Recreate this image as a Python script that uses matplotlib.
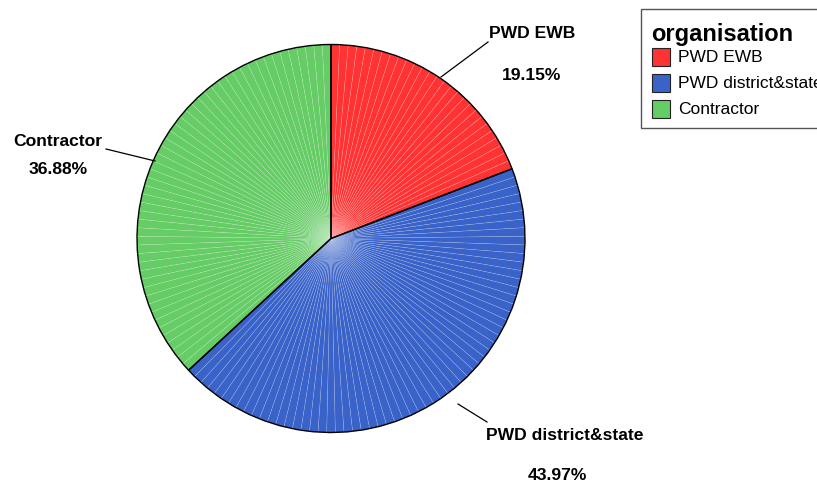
import numpy as np
import matplotlib
matplotlib.use("Agg")
import matplotlib.pyplot as plt
from matplotlib.patches import Rectangle

plt.rcParams['font.family'] = ['Liberation Sans', 'DejaVu Sans']

# Case counts per organisation
categories = ["PWD EWB", "PWD district&state", "Contractor"]
counts = [27, 62, 52]
colors = ["#FF3333", "#3A63C9", "#66CC66"]

W, H = 817, 484
fig = plt.figure(figsize=(W / 100, H / 100), dpi=100)
ax = fig.add_axes([0, 0, 1, 1])

def py(y):
    return H - y

center = (331, py(238.5))
radius = 194

# One thin wedge per case, giving the faint radial lines
case_colors = []
for c, n in zip(colors, counts):
    case_colors += [c] * n
ax.pie(np.ones(sum(counts)), colors=case_colors, startangle=90, counterclock=False,
       center=center, radius=radius, frame=True,
       wedgeprops=dict(edgecolor=(1, 1, 1, 0.22), linewidth=0.4))
# Category outlines
ax.pie(counts, colors=['none'] * 3, startangle=90, counterclock=False,
       center=center, radius=radius, frame=True,
       wedgeprops=dict(edgecolor='black', linewidth=1.0, fill=False))
ax.set_xlim(0, W)
ax.set_ylim(0, H)
ax.set_aspect('equal')
ax.axis('off')

total = sum(counts)
pcts = [f"{100 * n / total:.2f}%" for n in counts]

label_fmt = dict(fontsize=12.6, fontweight='bold', color='black', ha='center', va='center')
# PWD EWB
ax.plot([441, 488], [py(77), py(42)], color='black', lw=0.9)
ax.text(532, py(33), categories[0], **label_fmt)
ax.text(532, py(75), pcts[0], **label_fmt)
# PWD district&state
ax.plot([458, 487], [py(404), py(422)], color='black', lw=0.9)
ax.text(565, py(436), categories[1], **label_fmt)
ax.text(557, py(476), pcts[1], **label_fmt)
# Contractor
ax.plot([106, 155], [py(149), py(161)], color='black', lw=0.9)
ax.text(58, py(142), categories[2], **label_fmt)
ax.text(58, py(170), pcts[2], **label_fmt)

# Legend box
ax.add_patch(Rectangle((641, py(128)), 200, 119, facecolor='white',
                       edgecolor='#555555', lw=1.0, clip_on=False))
ax.text(651, py(35), "organisation", fontsize=17, fontweight='bold',
        ha='left', va='center', color='black')
for i, (cat, c) in enumerate(zip(categories, colors)):
    yc = 57 + 26 * i
    ax.add_patch(Rectangle((652, py(yc + 9)), 18, 18, facecolor=c,
                           edgecolor='#222222', lw=0.8))
    ax.text(678, py(yc), cat, fontsize=12.5, ha='left', va='center', color='black')

fig.savefig("out.png", dpi=100)
